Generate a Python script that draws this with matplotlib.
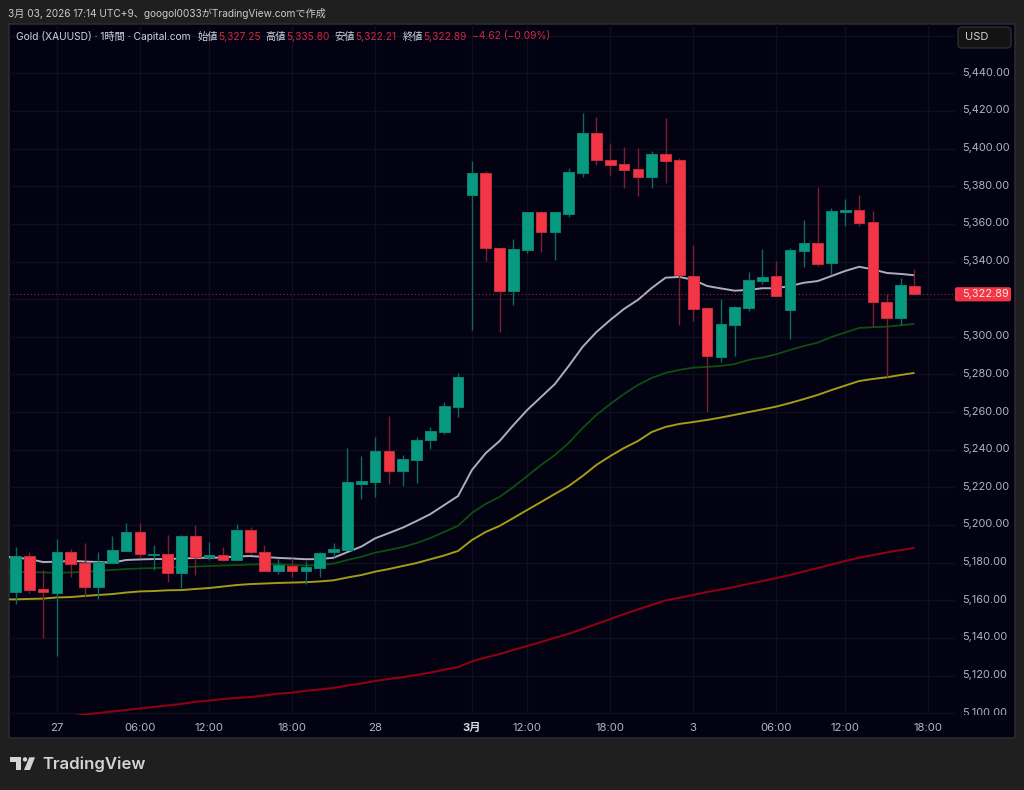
import numpy as np
import matplotlib
matplotlib.use("Agg")
import matplotlib.pyplot as plt
from matplotlib.patches import Rectangle, FancyBboxPatch, Polygon, Circle

plt.rcParams['font.family'] = ['Inter', 'Noto Sans CJK JP', 'DejaVu Sans']

opens = [5164.5, 5183.5, 5165.8, 5164.0, 5185.8, 5179.6, 5166.9, 5180.0, 5186.3, 5196.3, 5184.0,
         5184.4, 5174.6, 5194.1, 5182.8, 5183.9, 5181.4, 5197.5, 5185.7, 5175.4, 5178.4, 5175.6,
         5177.3, 5185.5, 5186.7, 5221.9, 5223.0, 5239.3, 5228.8, 5234.5, 5245.0, 5249.2, 5262.5,
         5375.2, 5386.9, 5347.3, 5324.3, 5346.1, 5366.1, 5355.7, 5365.2, 5386.9, 5408.3, 5393.8,
         5391.8, 5389.2, 5385.1, 5397.0, 5393.8, 5332.3, 5315.1, 5289.3, 5306.1, 5315.1, 5329.8,
         5332.3, 5314.2, 5345.6, 5350.0, 5339.2, 5366.5, 5367.4, 5361.0, 5318.6, 5310.1, 5327.25]
highs = [5188.1, 5185.5, 5176.1, 5192.6, 5187.2, 5190.3, 5185.8, 5194.1, 5200.9, 5200.9, 5189.4,
         5194.7, 5194.7, 5200.0, 5191.0, 5188.5, 5200.4, 5199.1, 5189.4, 5182.3, 5182.6, 5180.7,
         5185.6, 5190.3, 5240.7, 5236.7, 5246.6, 5257.9, 5237.0, 5246.6, 5251.9, 5265.3, 5281.0,
         5393.4, 5388.2, 5347.3, 5351.8, 5366.1, 5366.8, 5366.5, 5389.5, 5419.0, 5416.8, 5402.8,
         5401.0, 5400.2, 5398.7, 5416.4, 5395.2, 5348.8, 5315.1, 5320.1, 5316.5, 5334.3, 5346.5,
         5340.3, 5347.0, 5361.9, 5379.6, 5368.3, 5373.2, 5375.3, 5366.8, 5322.7, 5331.1, 5335.80]
lows = [5158.0, 5164.0, 5140.1, 5130.5, 5172.5, 5161.9, 5160.5, 5179.8, 5186.3, 5182.6, 5176.1,
        5169.9, 5166.7, 5173.4, 5181.4, 5180.9, 5181.4, 5184.6, 5175.6, 5174.0, 5172.4, 5168.6,
        5172.4, 5182.8, 5186.7, 5214.0, 5215.0, 5221.8, 5220.7, 5222.5, 5240.2, 5248.3, 5257.2,
        5303.8, 5340.4, 5302.7, 5316.9, 5344.3, 5345.2, 5340.8, 5363.8, 5385.1, 5391.3, 5386.0,
        5378.9, 5375.0, 5378.9, 5381.6, 5306.3, 5308.4, 5260.2, 5286.8, 5289.8, 5313.9, 5328.2,
        5321.5, 5298.8, 5336.9, 5337.8, 5333.2, 5358.7, 5359.0, 5305.2, 5278.8, 5306.3, 5322.21]
closes = [5183.5, 5165.4, 5164.5, 5185.8, 5179.1, 5166.9, 5180.3, 5186.7, 5196.3, 5184.6, 5184.6,
          5174.6, 5194.1, 5183.0, 5184.1, 5181.4, 5197.5, 5185.5, 5175.6, 5178.6, 5175.4, 5177.5,
          5185.3, 5187.2, 5223.0, 5223.5, 5239.3, 5228.5, 5234.9, 5245.3, 5249.8, 5263.1, 5278.8,
          5386.9, 5347.0, 5324.3, 5346.5, 5366.1, 5355.7, 5366.1, 5387.4, 5408.3, 5393.8, 5391.4,
          5388.8, 5384.7, 5397.0, 5393.2, 5332.8, 5314.8, 5289.8, 5306.6, 5315.7, 5330.0, 5331.9,
          5321.5, 5346.1, 5350.0, 5338.7, 5366.8, 5367.4, 5360.5, 5318.5, 5310.1, 5327.4, 5322.89]

# moving averages start one bar before the first candle
ma_silver = [5183.3, 5182.7, 5181.9, 5180.3, 5180.5, 5180.9, 5180.6, 5180.3, 5180.0, 5181.4, 5181.7,
             5181.9, 5181.9, 5182.2, 5182.5, 5182.6, 5182.7, 5183.3, 5183.5, 5183.0, 5182.5, 5182.2,
             5181.8, 5181.9, 5182.6, 5185.6, 5188.5, 5192.9, 5195.7, 5198.6, 5202.1, 5205.8, 5210.6,
             5215.4, 5229.2, 5238.2, 5244.6, 5253.1, 5261.1, 5268.0, 5274.9, 5284.5, 5294.6, 5302.5,
             5308.9, 5314.8, 5319.6, 5325.9, 5331.4, 5331.8, 5330.3, 5327.0, 5325.7, 5324.5, 5324.9,
             5325.8, 5325.8, 5327.0, 5328.7, 5329.6, 5332.3, 5335.0, 5337.2, 5335.8, 5333.9, 5333.4, 5332.7]
ma_green = [5175.0, 5175.0, 5175.0, 5174.8, 5174.6, 5174.8, 5175.0, 5175.7, 5176.1, 5176.6, 5176.9,
            5177.1, 5177.4, 5177.7, 5177.9, 5178.2, 5178.5, 5178.7, 5179.0, 5179.2, 5179.2, 5178.7,
            5178.5, 5178.7, 5179.5, 5181.4, 5183.1, 5185.3, 5186.7, 5188.3, 5190.4, 5193.1, 5196.3,
            5199.6, 5206.4, 5211.2, 5214.9, 5220.2, 5226.0, 5231.9, 5237.2, 5243.6, 5251.5, 5258.5,
            5264.3, 5269.6, 5274.4, 5278.1, 5280.8, 5282.4, 5283.6, 5284.0, 5284.5, 5285.5, 5287.7,
            5289.0, 5290.7, 5293.0, 5295.1, 5296.9, 5299.9, 5302.3, 5304.7, 5305.1, 5305.4, 5306.1, 5306.8]
ma_olive = [5160.4, 5160.5, 5160.7, 5160.9, 5161.5, 5161.7, 5162.3, 5162.8, 5163.3, 5164.1, 5164.7,
            5164.9, 5165.3, 5165.4, 5166.0, 5166.5, 5167.3, 5168.1, 5168.6, 5168.9, 5169.2, 5169.4,
            5169.6, 5170.0, 5170.6, 5172.1, 5173.4, 5175.2, 5176.6, 5178.2, 5179.8, 5181.8, 5183.8,
            5186.2, 5192.0, 5196.3, 5199.5, 5203.7, 5208.0, 5212.2, 5216.5, 5220.7, 5226.0, 5231.9,
            5236.6, 5240.9, 5244.6, 5249.4, 5252.1, 5253.7, 5254.7, 5255.8, 5257.1, 5258.5, 5260.0,
            5261.4, 5262.9, 5264.8, 5266.9, 5269.1, 5271.7, 5274.1, 5276.5, 5277.6, 5278.5, 5279.7, 5280.8]
ma_red = [5093.2, 5094.3, 5095.3, 5096.4, 5097.4, 5098.3, 5099.3, 5100.1, 5100.9, 5101.7, 5102.5,
          5103.3, 5104.1, 5104.9, 5106.0, 5106.7, 5107.5, 5108.1, 5108.6, 5109.4, 5110.4, 5110.9,
          5111.9, 5112.6, 5113.4, 5114.7, 5115.8, 5117.1, 5118.2, 5119.1, 5120.3, 5121.6, 5123.1,
          5124.5, 5127.5, 5129.6, 5131.4, 5133.6, 5135.7, 5137.8, 5140.1, 5142.2, 5144.7, 5147.4,
          5150.0, 5152.7, 5155.1, 5157.5, 5159.9, 5161.3, 5162.8, 5164.4, 5165.7, 5167.1, 5168.7,
          5170.2, 5171.8, 5173.4, 5175.3, 5177.1, 5179.0, 5180.9, 5182.6, 5184.0, 5185.4, 5186.7, 5187.8]

time_ticks = [3, 9, 14, 20, 26, 33, 37, 43, 49, 55, 60, 66]
time_labels = ['27', '06:00', '12:00', '18:00', '28', '3月', '12:00', '18:00', '3', '06:00', '12:00', '18:00']
price_ticks = list(range(5100, 5480, 20))
price_labels = [p for p in price_ticks if p != 5320 and p != 5460]
last_price = 5322.89

BG = '#1f1f1f'
PANE = '#020213'
GRID = '#0e0f1d'
AXIS_TEXT = '#b2b5be'
HEAD_TEXT = '#d1d4dc'
HEAD_RED = '#cc2a3e'
UP = '#089981'
DOWN = '#f23645'
UP_WICK = '#0b6b5f'
DOWN_WICK = '#7c1f30'

W, H = 1024, 790
fig = plt.figure(figsize=(W / 100, H / 100), dpi=100, facecolor=BG)


def box(left, top, right, bottom):
    return [left / W, 1 - bottom / H, (right - left) / W, (bottom - top) / H]


def put(px, py, s, **kw):
    return fig.text(px / W, 1 - py / H, s, va='center', ha='left', zorder=6, **kw)


# whole-figure overlay in pixels, y pointing down
bg = fig.add_axes([0, 0, 1, 1], zorder=0)
bg.set_xlim(0, W)
bg.set_ylim(H, 0)
bg.axis('off')
bg.add_patch(Rectangle((9, 24), 1006, 714, fc=PANE, ec='#2a2b30', lw=1.2))

ax = fig.add_axes(box(9, 24, 955, 714.5), zorder=1)
ax.set_facecolor('none')
ax.set_xlim(-0.47, 67.93)
ax.set_ylim(5099.3, 5466.2)
for s in ax.spines.values():
    s.set_visible(False)
ax.set_yticks(price_ticks)
ax.set_yticklabels([])
ax.set_xticks(time_ticks)
ax.set_xticklabels(time_labels, color=AXIS_TEXT, fontsize=8.2)
ax.get_xticklabels()[5].set_fontweight('bold')
ax.get_xticklabels()[5].set_color('#d8d9de')
ax.tick_params(axis='both', length=0)
ax.tick_params(axis='x', pad=6)
ax.grid(True, color=GRID, lw=1.0)
ax.set_axisbelow(True)

ma_x = np.arange(-1, 66)
ax.plot(ma_x, ma_red, color='#8f0012', lw=1.5, zorder=2, solid_capstyle='butt')
ax.plot(ma_x, ma_olive, color='#a39c14', lw=1.4, zorder=2, solid_capstyle='butt')
ax.plot(ma_x, ma_green, color='#0e4f0c', lw=1.3, zorder=2, solid_capstyle='butt')
ax.plot(ma_x, ma_silver, color='#aeaeb8', lw=1.4, zorder=2, solid_capstyle='butt')

ax.axhline(last_price, color='#a3203a', lw=0.8, ls=(0, (1, 2.2)), zorder=2)

x = np.arange(len(opens))
o = np.array(opens)
h = np.array(highs)
l = np.array(lows)
c = np.array(closes)
up = c >= o
ax.vlines(x[up], l[up], h[up], color=UP_WICK, lw=1.0, zorder=3)
ax.vlines(x[~up], l[~up], h[~up], color=DOWN_WICK, lw=1.0, zorder=3)
ax.bar(x[up], (c - o)[up], bottom=o[up], width=0.77, color=UP, edgecolor='#0a8572', lw=0.7, zorder=4)
ax.bar(x[~up], (o - c)[~up], bottom=c[~up], width=0.77, color=DOWN, edgecolor='#c92c3d', lw=0.7, zorder=4)

# price scale on its own axes so the lowest label gets cut at the pane edge
axr = fig.add_axes(box(955, 24, 1015, 714.5), zorder=2)
axr.set_facecolor('none')
axr.set_xlim(955, 1015)
axr.set_ylim(ax.get_ylim())
axr.axis('off')
for p in price_labels:
    axr.text(962, p + 0.3, f'{p:,}.00', color=AXIS_TEXT, fontsize=7.9, va='center', ha='left', clip_on=True)

# header texts
put(8.5, 13.5, '3月 03, 2026 17:14 UTC+9、googol0033がTradingView.comで作成', color='#c9cacd', fontsize=7.3)
put(15.7, 36.5, 'Gold (XAUUSD) · 1時間 · Capital.com', color=HEAD_TEXT, fontsize=7.35)
for lx, lab, vx, val in [(198, '始値', 218, '5,327.25'), (265, '高値', 286, '5,335.80'),
                         (334.6, '安値', 355.7, '5,322.21'), (402.5, '終値', 423, '5,322.89')]:
    put(lx, 36.5, lab, color=HEAD_TEXT, fontsize=7.35)
    put(vx, 36.5, val, color=HEAD_RED, fontsize=7.35)
put(472, 36.5, '−4.62 (−0.09%)', color=HEAD_RED, fontsize=7.35)

# USD box and last price label
fig.add_artist(FancyBboxPatch((958 / W, 1 - 48 / H), 53 / W, 21 / H, boxstyle='round,pad=0,rounding_size=0.004',
                              fc='#131313', ec='#2e2e30', lw=1, transform=fig.transFigure, mutation_aspect=W / H,
                              zorder=5))
put(965, 37, 'USD', color=HEAD_TEXT, fontsize=8.0)
fig.add_artist(FancyBboxPatch((955 / W, 1 - 301.4 / H), 56 / W, 14.2 / H, boxstyle='round,pad=0,rounding_size=0.002',
                              fc=DOWN, ec='none', transform=fig.transFigure, mutation_aspect=W / H, zorder=5))
put(962, 294.2, '5,322.89', color='#ffe3e6', fontsize=7.9)

# TradingView logo
logo = '#d4d4d4'
bg.add_patch(Polygon([(10, 757.3), (21, 757.3), (21, 770), (15.7, 770), (15.7, 761.7), (10, 761.7)], fc=logo, ec='none'))
bg.add_patch(Circle((25, 759.4), 2.2, fc=logo, ec='none'))
bg.add_patch(Polygon([(29.3, 757.3), (35, 757.3), (30, 770), (24, 770)], fc=logo, ec='none'))
put(42, 764, 'TradingView', color=logo, fontsize=12.0, fontweight='semibold')

fig.savefig('out.png', dpi=100, facecolor=BG)
